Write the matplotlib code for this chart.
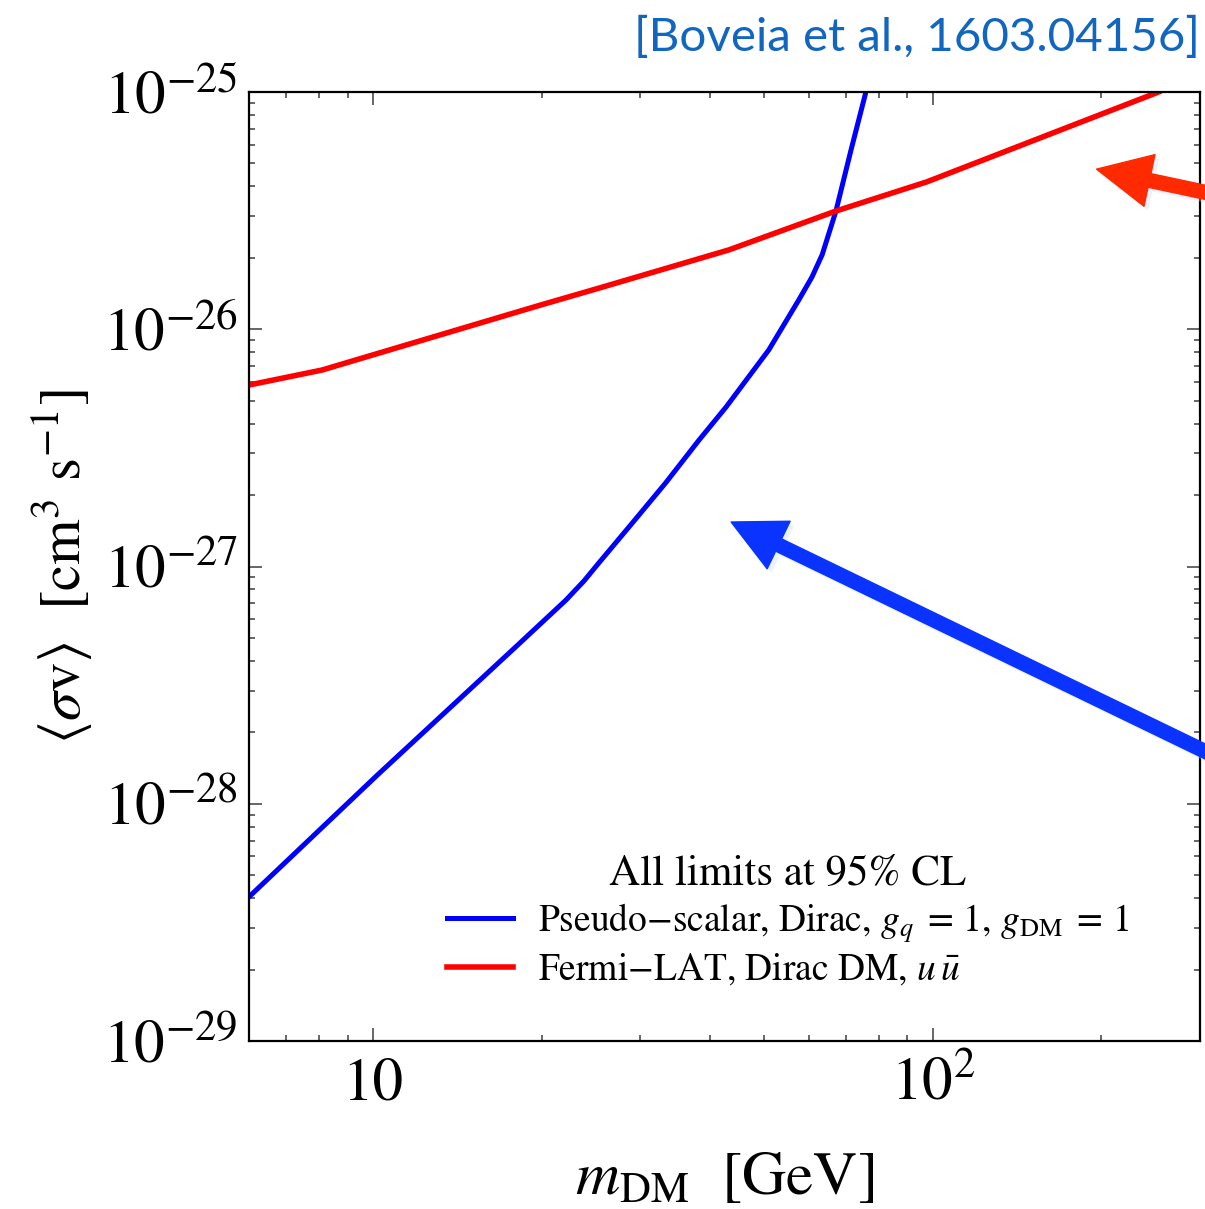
import numpy as np
import matplotlib
matplotlib.use("Agg")
import matplotlib.pyplot as plt
import matplotlib.patheffects as pe
from matplotlib.ticker import FixedLocator, FuncFormatter, LogLocator, NullFormatter

plt.rcParams['font.family'] = ['STIXGeneral', 'Liberation Serif', 'DejaVu Serif']
plt.rcParams['mathtext.fontset'] = 'stix'

# Pseudo-scalar mediator, Dirac DM (collider limit translated to <sigma v>)
m_ps = [6.0, 10.17, 18.2, 22.1, 23.8, 25.3, 29.0, 33.3, 38.2, 42.7, 50.9, 57.6,
        60.8, 63.4, 67.1, 71.4, 75.9]
sv_ps = [4.05e-29, 1.32e-28, 4.71e-28, 7.22e-28, 8.69e-28, 1.035e-27, 1.52e-27,
         2.25e-27, 3.41e-27, 4.70e-27, 8.18e-27, 1.33e-26, 1.66e-26, 2.06e-26,
         3.15e-26, 5.7e-26, 1.0e-25]

# Fermi-LAT dwarf limit, u ubar
m_fermi = [6.0, 8.1, 19.8, 25.3, 43.2, 67.1, 97.5, 253.0]
sv_fermi = [5.82e-27, 6.73e-27, 1.26e-26, 1.49e-26, 2.16e-26, 3.15e-26, 4.18e-26, 1.0e-25]

labels = [r'Pseudo$-$scalar, Dirac, $g_q\,$ = 1, $g_{\rm DM}\,$ = 1',
          r'Fermi$-$LAT, Dirac DM, $u\,\bar{u}$']

W, H = 1205, 1209
fig = plt.figure(figsize=(W / 100, H / 100), dpi=100)
ax = fig.add_axes([249 / W, 1 - 1041 / H, (1200 - 249) / W, (1041 - 92) / H])

ax.plot(m_ps, sv_ps, color='#0000ff', lw=3.6, label=labels[0])
ax.plot(m_fermi, sv_fermi, color='#ff0000', lw=4.0, label=labels[1])

ax.set_xscale('log')
ax.set_yscale('log')
ax.set_xlim(6, 300)
ax.set_ylim(1e-29, 1e-25)

ax.xaxis.set_major_locator(FixedLocator([10, 100]))
ax.xaxis.set_major_formatter(FuncFormatter(lambda v, p: '10' if v == 10 else r'$10^{2}$'))
ax.xaxis.set_minor_locator(LogLocator(base=10, subs=np.arange(2, 10)))
ax.xaxis.set_minor_formatter(NullFormatter())
ax.yaxis.set_major_locator(FixedLocator([1e-29, 1e-28, 1e-27, 1e-26, 1e-25]))
ax.yaxis.set_major_formatter(FuncFormatter(lambda v, p: r'$10^{%d}$' % round(np.log10(v))))
ax.yaxis.set_minor_locator(LogLocator(base=10, subs=np.arange(2, 10)))
ax.yaxis.set_minor_formatter(NullFormatter())

ax.tick_params(which='both', direction='in', top=True, right=True, color='#666666', width=1.4)
ax.tick_params(which='major', length=9.5, labelsize=44)
ax.tick_params(which='minor', length=4.3)
ax.tick_params(axis='x', pad=12)
ax.tick_params(axis='y', pad=8)
for s in ax.spines.values():
    s.set_linewidth(1.6)

ax.set_xlabel(r'$m_{\rm DM}$  [GeV]', fontsize=44, labelpad=28)
ax.set_ylabel(r'$\langle\sigma \mathrm{v}\rangle$  [cm$^3$ s$^{-1}$]', fontsize=42, labelpad=6)

leg = ax.legend(loc='upper left', bbox_to_anchor=(0.1805, 0.2235), frameon=False,
                fontsize=27, title='All limits at 95% CL', title_fontsize=31,
                handlelength=1.77, handletextpad=0.65, labelspacing=0.2, borderpad=0.2)

glow = [pe.SimplePatchShadow(offset=(3, -3), shadow_rgbFace='#c4dbff', alpha=0.35),
        pe.Normal()]

# arrows pointing into the plot from the right edge
blue_arrow = ax.annotate('', xy=(43.6, 1.54e-27), xycoords='data',
                         xytext=(1260, H - 778), textcoords='figure pixels',
                         arrowprops=dict(arrowstyle='simple,head_length=38,head_width=38,tail_width=9.8',
                                         mutation_scale=1, color='#0a33ff', shrinkA=0, shrinkB=0))
blue_arrow.arrow_patch.set_path_effects(glow)

red_arrow = ax.annotate('', xy=(196, 4.73e-26), xycoords='data',
                        xytext=(1260, H - 204), textcoords='figure pixels',
                        arrowprops=dict(arrowstyle='simple,head_length=39,head_width=38,tail_width=10',
                                        mutation_scale=1, color='#ff2a00', shrinkA=0, shrinkB=0))
red_arrow.arrow_patch.set_path_effects(glow)

fig.text(1200 / W, 1 - 37 / H, '[Boveia et al., 1603.04156]', color='#1166c0',
         fontsize=34.2, family=['Lato', 'DejaVu Sans'], ha='right', va='center')

fig.savefig('out.png', dpi=100)
